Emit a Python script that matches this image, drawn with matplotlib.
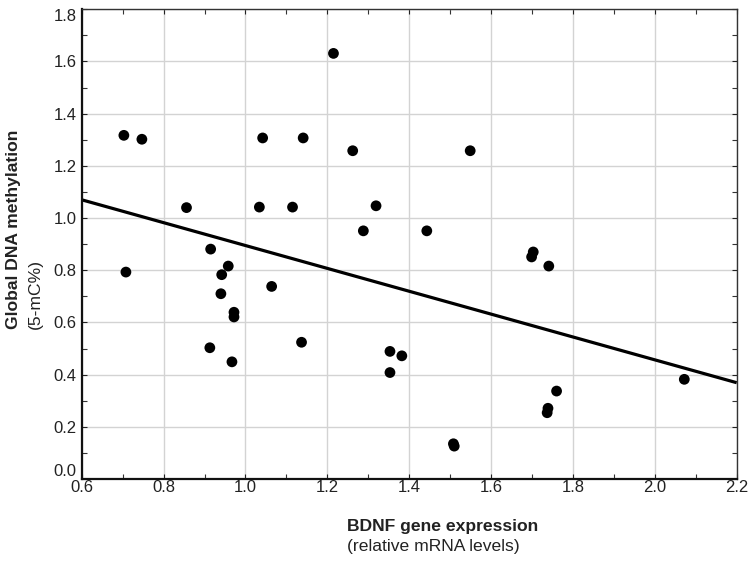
import matplotlib
matplotlib.use("Agg")
import matplotlib.pyplot as plt
from matplotlib.ticker import MultipleLocator

plt.rcParams['font.family'] = ['Liberation Sans', 'DejaVu Sans']

# Data
bdnf_expression = [0.703, 0.747, 0.708, 0.856, 0.915, 0.958, 0.942, 0.940, 0.972, 0.972,
                   0.913, 0.967, 1.034, 1.042, 1.064, 1.115, 1.141, 1.137, 1.215, 1.262,
                   1.288, 1.319, 1.353, 1.382, 1.353, 1.443, 1.549, 1.508, 1.510, 1.703,
                   1.699, 1.741, 1.739, 1.737, 1.760, 2.072]
dna_methylation = [1.317, 1.302, 0.793, 1.040, 0.881, 0.816, 0.783, 0.710, 0.639, 0.621,
                   0.503, 0.449, 1.042, 1.307, 0.738, 1.042, 1.307, 0.524, 1.631, 1.258,
                   0.951, 1.047, 0.489, 0.472, 0.408, 0.951, 1.258, 0.135, 0.126, 0.870,
                   0.851, 0.816, 0.271, 0.254, 0.337, 0.382]

# Regression line endpoints
fit_x = [0.6, 2.2]
fit_y = [1.070, 0.369]

x_ticks = [0.6, 0.8, 1.0, 1.2, 1.4, 1.6, 1.8, 2.0, 2.2]
y_ticks = [0.0, 0.2, 0.4, 0.6, 0.8, 1.0, 1.2, 1.4, 1.6, 1.8]

fig = plt.figure(figsize=(7.54, 5.62), dpi=100)
ax = fig.add_axes([81.7 / 754, 1 - 479 / 562, (736.7 - 81.7) / 754, (479 - 9.3) / 562])

ax.grid(True, which='major', color='#d3d3d3', linewidth=1.0, zorder=0)
ax.set_axisbelow(True)

ax.plot(fit_x, fit_y, color='black', linewidth=2.3, zorder=2, solid_capstyle='butt')
ax.scatter(bdnf_expression, dna_methylation, s=60, color='black', edgecolors='none', zorder=3)

ax.set_xlim(0.6, 2.2)
ax.set_ylim(0.0, 1.8)
ax.set_xticks(x_ticks)
ax.set_yticks(y_ticks)
ax.set_xticklabels([f"{v:.1f}" for v in x_ticks])
ax.set_yticklabels([f"{v:.1f}" for v in y_ticks])
ax.xaxis.set_minor_locator(MultipleLocator(0.1))
ax.yaxis.set_minor_locator(MultipleLocator(0.1))

ax.tick_params(which='both', direction='in', top=True, right=True, length=3.5, width=0.8, color='#333333')
ax.tick_params(axis='x', which='major', labelsize=12, pad=1.0, colors='#222222')
ax.tick_params(axis='y', which='major', labelsize=12, pad=3.5, colors='#222222')

# Edge y tick labels sit inside the axis range, as in the reference
ylabels = ax.get_yticklabels()
ylabels[0].set_verticalalignment('bottom')
ylabels[-1].set_verticalalignment('top')

for side in ['left', 'bottom']:
    ax.spines[side].set_linewidth(1.6)
    ax.spines[side].set_color('#111111')
for side in ['top', 'right']:
    ax.spines[side].set_linewidth(1.0)
    ax.spines[side].set_color('#333333')

# Axis titles
fig.text(347 / 754, 1 - 526 / 562, "BDNF gene expression", fontsize=12.6, fontweight='bold',
         ha='left', va='center', color='#222222')
fig.text(347 / 754, 1 - 547 / 562, "(relative mRNA levels)", fontsize=12.6,
         ha='left', va='center', color='#222222')
fig.text(14 / 754, 1 - 329 / 562, "Global DNA methylation", fontsize=12.6, fontweight='bold',
         rotation=90, ha='center', va='bottom', color='#222222')
fig.text(35 / 754, 1 - 329 / 562, "(5-mC%)", fontsize=12.6,
         rotation=90, ha='center', va='bottom', color='#222222')

fig.savefig("out.png", dpi=100)
